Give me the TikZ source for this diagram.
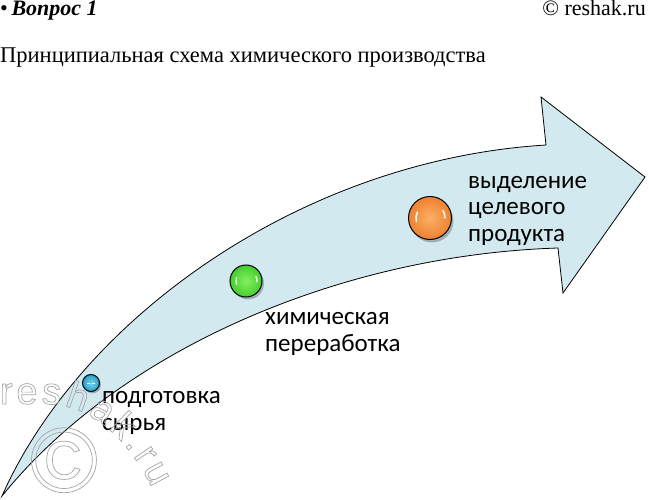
\documentclass[tikz,border=0pt]{standalone}
\usepackage{fontspec}
\setmainfont{Liberation Serif}
\newfontfamily\calib{Carlito}
\newfontfamily\wmfont{Liberation Sans}
\usetikzlibrary{decorations.text}
\definecolor{arrowfill}{RGB}{211,233,240}
\definecolor{wmgray}{RGB}{165,165,165}
\definecolor{bluein}{RGB}{120,210,235}\definecolor{blueout}{RGB}{40,160,200}
\definecolor{greenin}{RGB}{130,240,100}\definecolor{greenout}{RGB}{70,205,45}
\definecolor{orangein}{RGB}{252,175,100}\definecolor{orangeout}{RGB}{238,130,50}
\newcommand\wmoutline{\special{pdf:literal direct 1 Tr 0.7 w}}
\tikzset{
  lbl/.style={font=\calib\fontsize{25}{27}\selectfont, align=left, anchor=base west, inner sep=0pt},
  ballnode/.style={circle, draw=black, line width=1pt, inner sep=0pt},
  ballshadow/.style={fill=black, fill opacity=0.25, draw=none},
  glint/.style={draw=white, line width=1.3pt, line cap=round, draw opacity=0.9},
}
\begin{document}
\begin{tikzpicture}[x=1pt,y=-1pt]
\useasboundingbox (0,0) rectangle (649,500);
% header
\node (hdr) [anchor=base west, inner sep=0pt, font=\fontsize{22}{24}\selectfont] at (0,16) {•\,\textbf{\textit{Вопрос 1}}};
\node (copy) [anchor=base east, inner sep=0pt, font=\fontsize{22}{24}\selectfont] at (646,16) {© reshak.ru};
\node (title) [anchor=base west, inner sep=0pt, font=\fontsize{22.5}{26}\selectfont] at (0,63) {Принципиальная схема химического производства};
% arrow
\draw[fill=arrowfill, line width=0.8pt, line join=miter]
  (2,496) .. controls (80,320) and (300,160) .. (546,145)
  -- (541,97) -- (645,177) -- (563,293) -- (558,248)
  .. controls (340,255) and (120,350) .. (2,496) -- cycle;
% ball shadows
\fill[ballshadow] (92.5,385) circle (8.5);
\fill[ballshadow] (248,283.5) circle (16);
\fill[ballshadow] (432,221) circle (21.5);
% balls
\node (b1) [ballnode, inner color=bluein, outer color=blueout, minimum size=17pt] at (91,383) {};
\node (b2) [ballnode, inner color=greenin, outer color=greenout, minimum size=32pt] at (246,281) {};
\node (b3) [ballnode, inner color=orangein, outer color=orangeout, minimum size=43pt] at (430,218) {};
% glints
\draw[glint] (87.5,383.5) -- (89.5,383.5);
\draw[glint] (92.5,383.5) -- (94.5,383.5);
\draw[glint] ([shift={(160:10)}]b2.center) arc[start angle=160, end angle=200, radius=10];
\draw[glint] ([shift={(-25:11)}]b2.center) arc[start angle=-25, end angle=5, radius=11];
\draw[glint, line width=1.6pt] ([shift={(165:14)}]b3.center) arc[start angle=165, end angle=205, radius=14];
\draw[glint, line width=1.6pt] ([shift={(-30:15)}]b3.center) arc[start angle=-30, end angle=0, radius=15];
% labels
\node (t1) [lbl] at (102,430) {подготовка\\сырья};
\node (t2) [lbl] at (265,352) {химическая\\переработка};
\node (t3) [lbl] at (468,242) {выделение\\целевого\\продукта};
% watermark
\path[decorate, decoration={text along path, text align=fit to path,
  text={|\wmfont\fontsize{38}{38}\selectfont\color{wmgray}\wmoutline|reshak.ru}}]
  (0,404) -- (45,404) .. controls (85,404) and (125,432) .. (152,488);
\node (wm) [anchor=base, text=wmgray, inner sep=0pt, text depth=0pt,
  font=\wmfont\fontsize{92}{92}\selectfont] at (64,492) {\wmoutline ©};
\end{tikzpicture}
\end{document}
